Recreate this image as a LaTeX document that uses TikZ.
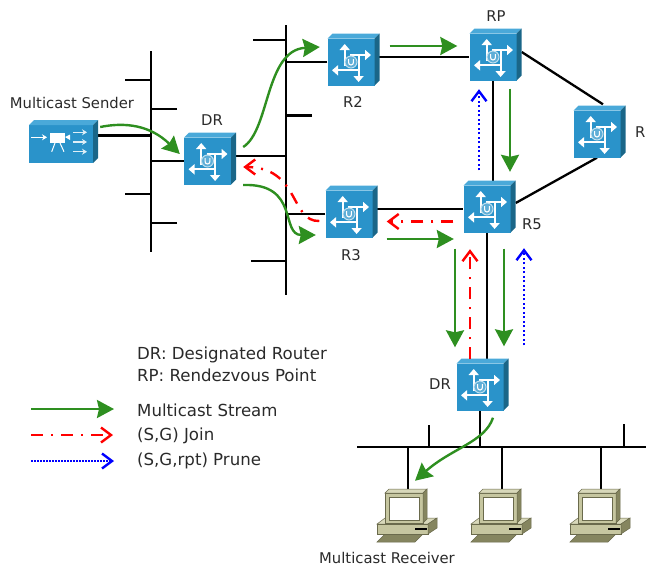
\documentclass[tikz,border=0pt]{standalone}
\usepackage{fontspec}
\setmainfont{DejaVu Sans}
\usetikzlibrary{arrows.meta, positioning}
\definecolor{routerblue}{HTML}{2A93CA}
\definecolor{routertop}{HTML}{4AA9D9}
\definecolor{routerside}{HTML}{1A6688}
\definecolor{streamgreen}{HTML}{2E8F20}
\definecolor{pctan}{HTML}{C6C6A0}
\definecolor{pclight}{HTML}{D8D8BA}
\definecolor{pcdark}{HTML}{85855F}
\definecolor{pcline}{HTML}{6A6A4C}
\definecolor{tagtext}{HTML}{2A2A2A}
\pgfdeclarelayer{links}
\pgfsetlayers{links,main}
\tikzset{
    wire/.style={draw=black, line width=2.3pt},
    stream/.style={draw=streamgreen, line width=2.4pt, -{Stealth[length=17pt,width=18pt,inset=2pt]}},
    sgjoin/.style={draw=red, line width=2.4pt, dash pattern=on 12pt off 8pt on 2pt off 8pt, -{Straight Barb[length=10pt,width=15pt,line width=2.4pt]}},
    sgprune/.style={draw=blue, line width=2.4pt, dash pattern=on 2pt off 2.5pt, -{Straight Barb[length=10pt,width=15pt,line width=2.4pt]}},
    routerbox/.style={rectangle, fill=routerblue, minimum width=47pt, minimum height=47pt, inner sep=0pt},
    senderbox/.style={rectangle, fill=routerblue, minimum width=64pt, minimum height=38pt, inner sep=0pt},
    pcbox/.style={rectangle, fill=pctan, draw=pcline, line width=0.5pt, minimum width=38pt, minimum height=30pt, inner sep=0pt},
    icon/.style={draw=white, line width=2.2pt, -{Stealth[length=6pt,width=10pt,inset=0pt]}},
    tag/.style={inner sep=0pt, text=tagtext, font=\fontsize{14.8}{17}\selectfont},
    keytext/.style={inner sep=0pt, anchor=west, text=tagtext, font=\fontsize{16.6}{19}\selectfont},
}
\newcommand{\router}[2]{
    \node[routerbox] (#1) at (#2) {};
    \begin{scope}[shift={(#2)}]
        \fill[routertop] (-23.5,-23.5) -- ++(5,-5) -- ++(47,0) -- ++(-5,5) -- cycle;
        \fill[routerside] (23.5,-23.5) -- ++(5,-5) -- ++(0,47) -- ++(-5,5) -- cycle;
        \draw[icon] (-6.3,4) -- (-6.3,-18);
        \draw[icon] (-1,-7) -- (20,-7);
        \draw[icon] (7.6,-7) -- (7.6,20);
        \draw[icon] (8,8.3) -- (-19,8.3);
        \draw[draw=white!70!routerblue, fill=routerblue!75!white, line width=1pt] (0,0) circle (6);
        \draw[white, line width=1.1pt] (-2.4,-3) -- (-2.4,0.6) arc[start angle=180, end angle=360, x radius=2.4, y radius=-2.4] -- (2.4,-3);
    \end{scope}
}
\newcommand{\pc}[2]{
    \begin{scope}[shift={(#2)}]
        \fill[pcdark, draw=pcline, line width=0.5pt] (-19,26) -- (19,26) -- (11,34) -- (-27,34) -- cycle;
        \fill[pclight, draw=pcline, line width=0.5pt] (-27,16) -- (-19,10) -- (33,10) -- (24,16) -- cycle;
        \fill[pctan, draw=pcline, line width=0.5pt] (-27,16) rectangle (24,26);
        \fill[pcdark, draw=pcline, line width=0.5pt] (24,16) -- (33,10) -- (33,20) -- (24,26) -- cycle;
        \fill[black] (11,20) rectangle (23,22);
    \end{scope}
    \node[pcbox] (#1) at (#2) {};
    \begin{scope}[shift={(#2)}]
        \fill[pclight, draw=pcline, line width=0.5pt] (-19,-15) -- (-15,-19) -- (23,-19) -- (19,-15) -- cycle;
        \fill[pcdark, draw=pcline, line width=0.5pt] (19,-15) -- (23,-19) -- (23,11) -- (19,15) -- cycle;
        \fill[white, draw=pcline, line width=0.5pt] (-15,-11) rectangle (15,12);
    \end{scope}
}
\begin{document}
\begin{tikzpicture}[x=1pt, y=-1pt]
    \useasboundingbox (0,0) rectangle (646,566);

    \node[senderbox] (snd) at (61,144) {};
    \begin{scope}[shift={(61,144)}]
        \fill[routertop] (-32,-19) -- ++(5,-5) -- ++(64,0) -- ++(-5,5) -- cycle;
        \fill[routerside] (32,-19) -- ++(5,-5) -- ++(0,38) -- ++(-5,5) -- cycle;
        \draw[white, line width=1.4pt, -{Stealth[length=5pt,width=6pt]}] (-30,-6.7) -- (-14,-6.7);
        \fill[white] (-11,-11) rectangle (4,-1);
        \fill[white] (4,-7) -- (9,-9.5) -- (9,-4) -- cycle;
        \draw[white, line width=1pt] (-6,-1) -- (-9.3,7.7);
        \draw[white, line width=1pt] (-1,-1) -- (3,7.7);
        \foreach \y in {-11.7,-2,7.7}
            \draw[white!85!routerblue, line width=1.4pt, -{Stealth[length=5pt,width=6pt]}] (12,\y) -- (26,\y);
    \end{scope}

    \router{dr}{207.5,161}
    \router{rtwo}{351,62}
    \router{rp}{493,57}
    \router{rfour}{597,134}
    \router{rfive}{487,209}
    \router{rthree}{349,214}
    \router{drb}{480,387}
    \pc{pca}{404,508}
    \pc{pcb}{498,508}
    \pc{pcc}{597,508}

    \coordinate (busla) at (151,51);
    \coordinate (buslb) at (151,252);
    \coordinate (busma) at (286,25);
    \coordinate (busmb) at (286,295);
    \coordinate (busba) at (357,447);
    \coordinate (busbb) at (646,447);
    \coordinate (sndport) at ([shift={(0,-8.5)}]snd.east);
    \coordinate (drport) at ([shift={(0,-5)}]dr.east);

    \begin{pgfonlayer}{links}
        \draw[wire] (busla) -- (buslb);
        \draw[wire] (busma) -- (busmb);
        \draw[wire] (busba) -- (busbb);
        \foreach \nm/\px/\py in {a/125/80, b/177/109, c/125/194, d/177/223} {
            \coordinate (stubl\nm) at (\px,\py);
            \draw[wire] (stubl\nm) -- (stubl\nm -| busla);
        }
        \foreach \nm/\px/\py in {a/253/40, b/312/115.5, c/251/261} {
            \coordinate (stubm\nm) at (\px,\py);
            \draw[wire] (stubm\nm) -- (stubm\nm -| busma);
        }
        \foreach \nm/\px/\py in {a/429/425, b/624/424} {
            \coordinate (stubb\nm) at (\px,\py);
            \draw[wire] (stubb\nm) -- (stubb\nm |- busba);
        }
        \foreach \nm/\px in {a/408, b/502, c/601} {
            \coordinate (tap\nm) at (\px,447);
            \draw[wire] (tap\nm) -- (tap\nm |- pc\nm.north);
        }
        \draw[wire] (sndport) -- (sndport -| busla);
        \draw[wire] (dr.west) -- (dr.west -| busla);
        \draw[wire] (drport) -- (drport -| busma);
        \draw[wire] (rtwo.west) -- (rtwo.west -| busma);
        \draw[wire] (rthree.west) -- (rthree.west -| busma);
        \draw[wire] (rtwo.east |- rp.west) -- (rp.west);
        \draw[wire] (rp.south) -- (rp.south |- rfive.north);
        \draw[wire] ([shift={(5,-5)}]rp.east) -- ([shift={(6,-6)}]rfour.north);
        \draw[wire] ([shift={(5,-6)}]rfive.east) -- (rfour.south);
        \draw[wire] (rthree.east |- rfive.west) -- (rfive.west);
        \draw[wire] (rfive.south) -- (rfive.south |- drb.north);
        \draw[wire] (drb.south) -- (drb.south |- busba);
    \end{pgfonlayer}

    \draw[stream] ([shift={(7,-17)}]snd.east) .. controls (125,122) and (150,125) .. ([shift={(-4,-7)}]dr.west);
    \draw[stream] ([shift={(12,-14)}]dr.east) .. controls (270,130) and (265,50) .. ([shift={(-7.5,-15)}]rtwo.west);
    \draw[stream] ([shift={(12,24)}]dr.east) .. controls (300,183) and (280,235) .. ([shift={(-9.5,21)}]rthree.west);
    \draw[stream] ([shift={(15,-16)}]rtwo.east) -- ([shift={(-12,-11)}]rp.west);
    \draw[stream] ([shift={(17,8)}]rp.south) -- ([shift={(23,-13.5)}]rfive.north);
    \draw[stream] ([shift={(14,25)}]rthree.east) -- ([shift={(-9.5,30)}]rfive.west);
    \draw[stream] ([shift={(-32,16)}]rfive.south) -- ([shift={(-25,-16)}]drb.north);
    \draw[stream] ([shift={(17,16)}]rfive.south) -- ([shift={(24,-17)}]drb.north);
    \draw[stream] ([shift={(13,7)}]drb.south) .. controls (485,442) and (452,448) .. ([shift={(11,-12)}]pca.north);

    \draw[sgjoin] ([shift={(-6,7)}]rthree.west) .. controls (290,222) and (300,167) .. ([shift={(12,6)}]dr.east);
    \draw[sgjoin] ([shift={(-10,12.5)}]rfive.west) -- ([shift={(14,7.5)}]rthree.east);
    \draw[sgjoin] ([shift={(-10,-4)}]drb.north) -- ([shift={(-17,16.5)}]rfive.south);

    \draw[sgprune] ([shift={(-8,-15)}]rfive.north) -- ([shift={(-14,8.5)}]rp.south);
    \draw[sgprune] ([shift={(44,-18)}]drb.north) -- ([shift={(37,15.5)}]rfive.south);

    \node[tag] (sendertag) at (72,103) {Multicast Sender};
    \node[tag] (drtag) at (212,120) {DR};
    \node[tag] (rtwotag) at (353,102) {R2};
    \node[tag] (rptag) at (496,16) {RP};
    \node[tag] (rthreetag) at (351,255) {R3};
    \node[tag] (rfivetag) at (532,224) {R5};
    \node[tag, anchor=west] (rfourtag) at (635,132) {R};
    \node[tag] (drbtag) at (440,384) {DR};
    \node[tag] (receivertag) at (387,558) {Multicast Receiver};

    \node[keytext] (drtext) at (137,355) {DR: Designated Router};
    \node[keytext] (rptext) at (137,375) {RP: Rendezvous Point};
    \node[keytext] (streamtext) at (137,410) {Multicast Stream};
    \node[keytext] (jointext) at (137,436) {(S,G) Join};
    \node[keytext] (prunetext) at (137,461) {(S,G,rpt) Prune};

    \coordinate (keystream) at (31,409);
    \coordinate (keyjoin) at (31,435);
    \coordinate (keyprune) at (31,461);
    \draw[stream] (keystream) -- ([shift={(-23,-1)}]streamtext.west);
    \draw[sgjoin] (keyjoin) -- ([shift={(-24,-1)}]jointext.west);
    \draw[sgprune, dash pattern=on 2pt off 1pt] (keyprune) -- ([shift={(-23,0)}]prunetext.west);
\end{tikzpicture}
\end{document}
